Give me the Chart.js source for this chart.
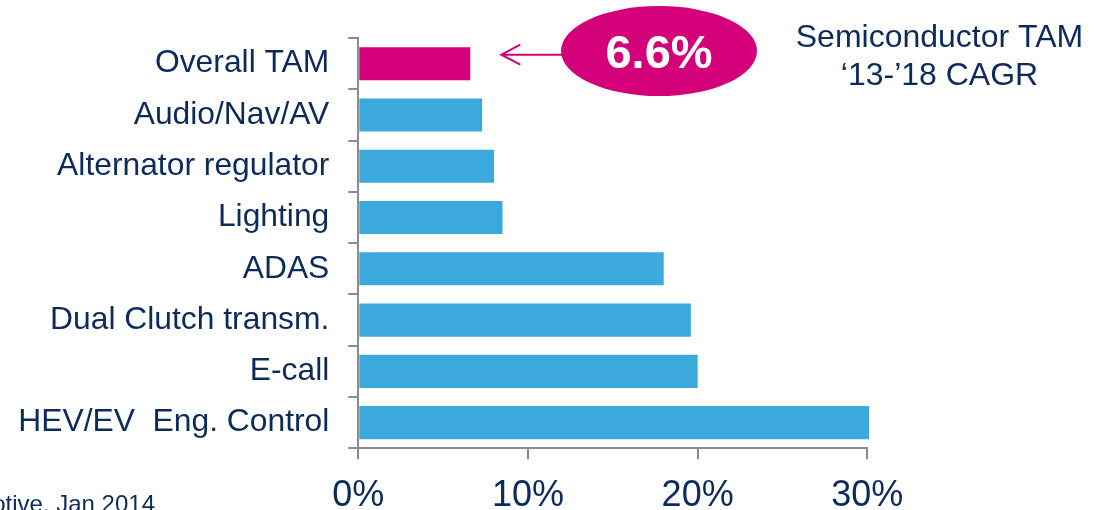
<!DOCTYPE html>
<html>
<head>
<meta charset="utf-8">
<script src="https://cdn.jsdelivr.net/npm/chart.js@4/dist/chart.umd.min.js"></script>
<style>
  html, body { margin: 0; padding: 0; background: #ffffff; }
  #wrap { width: 1099px; height: 510px; position: relative; }
</style>
</head>
<body>
<div id="wrap"><canvas id="c" width="1099" height="510"></canvas></div>
<script>
const categories = ["Overall TAM", "Audio/Nav/AV", "Alternator regulator", "Lighting", "ADAS", "Dual Clutch transm.", "E-call", "HEV/EV  Eng. Control"];
const cagrValues = [6.6, 7.3, 8.0, 8.5, 18.0, 19.6, 20.0, 30.1];
const xTickValues = [0, 10, 20, 30];
const calloutTitle = ["Semiconductor TAM", "\u201813-\u201918 CAGR"];
const sourceNote = "Automotive, Jan 2014";

const NAVY = "#0c2a5b";
const MAGENTA = "#d4007a";
const BLUE = "#3ba9db";
const GRAY = "#8c8c8c";
const FONT = "'Liberation Sans', Arial, Helvetica, sans-serif";

const barColors = categories.map((c, i) => i === 0 ? MAGENTA : BLUE);

const annotate = {
  id: "annotate",
  afterDraw(chart) {
    const ctx = chart.ctx;
    const xs = chart.scales.x, ys = chart.scales.y;
    ctx.save();
    // ellipse callout
    const ex = 659, ey = 51, rx = 98, ry = 45;
    ctx.fillStyle = MAGENTA;
    ctx.beginPath();
    ctx.ellipse(ex, ey, rx, ry, 0, 0, Math.PI * 2);
    ctx.fill();
    ctx.fillStyle = "#ffffff";
    ctx.font = "bold 47px " + FONT;
    ctx.textAlign = "center";
    ctx.textBaseline = "alphabetic";
    ctx.fillText(cagrValues[0].toFixed(1) + "%", ex, ey + 17);
    // arrow
    const tipX = xs.getPixelForValue(cagrValues[0]) + 31;
    const tipY = ys.getPixelForValue(0) - 9;
    ctx.strokeStyle = MAGENTA;
    ctx.lineWidth = 2;
    ctx.beginPath();
    ctx.moveTo(ex - rx + 1, tipY);
    ctx.lineTo(tipX, tipY);
    ctx.moveTo(tipX + 19, tipY - 10);
    ctx.lineTo(tipX, tipY);
    ctx.lineTo(tipX + 19, tipY + 10);
    ctx.stroke();
    // top-right title
    ctx.fillStyle = NAVY;
    ctx.font = "32px " + FONT;
    ctx.textAlign = "center";
    ctx.fillText(calloutTitle[0], 939.5, 47);
    ctx.fillText(calloutTitle[1], 939.5, 85);
    // source note (cut off at left/bottom)
    ctx.font = "24px " + FONT;
    ctx.textAlign = "right";
    ctx.fillText(sourceNote, 155, 512);
    ctx.restore();
  }
};

new Chart(document.getElementById("c"), {
  type: "bar",
  data: {
    labels: categories,
    datasets: [{
      data: cagrValues,
      backgroundColor: barColors,
      borderWidth: 0,
      barPercentage: 0.645,
      categoryPercentage: 1.0,
      clip: false
    }]
  },
  options: {
    indexAxis: "y",
    responsive: false,
    animation: false,
    devicePixelRatio: 1,
    layout: { padding: { left: 0, right: 231.7, top: 34, bottom: 0 } },
    plugins: { legend: { display: false }, tooltip: { enabled: false } },
    scales: {
      x: {
        type: "linear",
        min: 0,
        max: 30,
        afterBuildTicks(scale) { scale.ticks = xTickValues.map(v => ({ value: v })); },
        afterFit(scale) { scale.height = 510 - 448.3; },
        grid: { drawOnChartArea: false, drawTicks: true, tickLength: 11, color: GRAY, lineWidth: 2 },
        border: { display: true, color: GRAY, width: 2 },
        ticks: {
          color: NAVY,
          font: { family: FONT, size: 36 },
          padding: 15,
          callback: v => v + "%"
        }
      },
      y: {
        type: "category",
        afterFit(scale) { scale.width = 358.3; },
        grid: { drawOnChartArea: false, drawTicks: true, tickLength: 10, color: GRAY, lineWidth: 2, offset: true },
        border: { display: true, color: GRAY, width: 2 },
        ticks: {
          color: NAVY,
          font: { family: FONT, size: 31.8 },
          padding: 19,
          autoSkip: false
        }
      }
    }
  },
  plugins: [annotate]
});
</script>
</body>
</html>
